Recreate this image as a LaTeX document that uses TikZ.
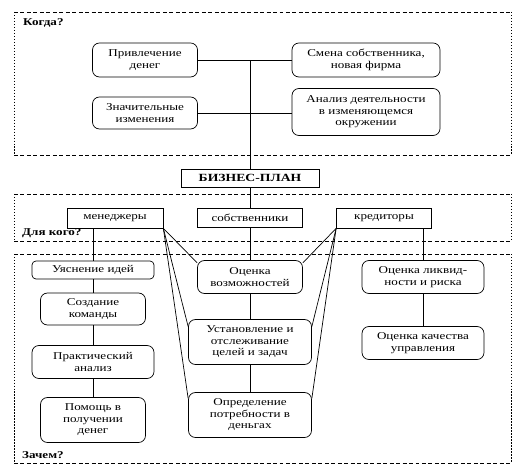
\documentclass[tikz,border=0pt]{standalone}
\usepackage{fontspec}
\setmainfont{Liberation Serif}[FakeStretch=1.25]
\usetikzlibrary{shapes}
\tikzstyle{rb}=[rectangle,rounded corners=7pt,draw=black,line width=0.7pt,
  align=center,inner sep=1pt,font=\fontsize{10.5}{11.5}\selectfont]
\tikzstyle{sb}=[rectangle,draw=black,line width=0.7pt,
  align=center,inner sep=1pt,font=\fontsize{10.5}{11.5}\selectfont]
\tikzstyle{zoneh}=[draw=black,line width=0.7pt,dash pattern=on 4pt off 2.5pt]
\tikzstyle{zonev}=[draw=black,line width=0.7pt,dash pattern=on 1.5pt off 1.5pt]
\tikzstyle{zl}=[anchor=west,inner sep=0pt,font=\fontsize{10.5}{11.5}\selectfont\bfseries]
\tikzstyle{ln}=[line width=0.7pt]

\begin{document}
\begin{tikzpicture}[x=1bp,y=-1bp]
    \useasboundingbox (0,0) rectangle (529,470);
    % dashed zones
    \foreach \top/\bot in {12/155,194/241,254/463} {
      \draw [style=zoneh] (14,\top) to (511,\top);
      \draw [style=zoneh] (14,\bot) to (511,\bot);
      \draw [style=zonev] (14,\top) to (14,\bot);
      \draw [style=zonev] (511,\top) to (511,\bot);
    }
    \node [style=zl] (kogda) at (23,23) {Когда?};
    \node [style=zl] (dlya) at (22,233) {Для кого?};
    \node [style=zl] (zachem) at (22,455) {Зачем?};
    % when
    \node [style=rb,minimum width=105bp,minimum height=34bp] (priv) at (145,60) {Привлечение\\денег};
    \node [style=rb,minimum width=105bp,minimum height=32bp] (znach) at (145,113) {Значительные\\изменения};
    \node [style=rb,minimum width=148bp,minimum height=34bp] (smena) at (366,60) {Смена собственника,\\новая фирма};
    \node [style=rb,minimum width=148bp,minimum height=47bp] (analiz) at (366,112) {Анализ деятельности\\в изменяющемся\\окружении};
    % plan and readers
    \node [style=sb,minimum width=138bp,minimum height=18bp,font=\fontsize{11}{12}\selectfont\bfseries] (plan) at (250,178) {БИЗНЕС-ПЛАН};
    \node [style=sb,minimum width=96bp,minimum height=20bp] (men) at (115,218) {менеджеры};
    \node [style=sb,minimum width=105bp,minimum height=19bp] (sob) at (250,218) {собственники};
    \node [style=sb,minimum width=95bp,minimum height=20bp] (kred) at (384,218) {кредиторы};
    % why
    \node [style=rb,rounded corners=4pt,minimum width=122bp,minimum height=18bp] (idei) at (93,270) {Уяснение идей};
    \node [style=rb,minimum width=105bp,minimum height=32bp] (koman) at (93,309) {Создание\\команды};
    \node [style=rb,minimum width=122bp,minimum height=33bp] (prakt) at (93,362) {Практический\\анализ};
    \node [style=rb,minimum width=105bp,minimum height=45bp] (pomosh) at (93,420) {Помощь в\\получении\\денег};
    \node [style=rb,minimum width=105bp,minimum height=33bp] (ovoz) at (250,277) {Оценка\\возможностей};
    \node [style=rb,minimum width=123bp,minimum height=45bp] (ustan) at (250,342) {Установление и\\отслеживание\\целей и задач};
    \node [style=rb,minimum width=123bp,minimum height=45bp] (opred) at (250,415) {Определение\\потребности в\\деньгах};
    \node [style=rb,minimum width=122bp,minimum height=33bp] (likv) at (423,277) {Оценка ликвид-\\ности и риска};
    \node [style=rb,minimum width=122bp,minimum height=33bp] (kach) at (423,343) {Оценка качества\\управления};
    % links
    \draw [style=ln] (priv) to (smena);
    \draw [style=ln] (znach.east) to (znach.east -| analiz.west);
    \draw [style=ln] (plan.north) to (plan.north |- priv.east);
    \draw [style=ln] (plan) to (sob);
    \draw [style=ln] (sob) to (ovoz);
    \draw [style=ln] (ovoz) to (ustan);
    \draw [style=ln] (ustan) to (opred);
    \draw [style=ln] (idei.north |- men.south) to (idei.north);
    \draw [style=ln] (idei) to (koman);
    \draw [style=ln] (koman) to (prakt);
    \draw [style=ln] (prakt) to (pomosh);
    \draw [style=ln] (likv.north |- kred.south) to (likv.north);
    \draw [style=ln] (likv) to (kach);
    \draw [style=ln] (men.south east) to (ovoz.165);
    \draw [style=ln] (men.south east) to (ustan.166);
    \draw [style=ln] (men.south east) to (opred.165);
    \draw [style=ln] (kred.south west) to (ovoz.15);
    \draw [style=ln] (kred.south west) to (ustan.14);
    \draw [style=ln] (kred.south west) to (opred.15);
  \end{tikzpicture}
\end{document}
